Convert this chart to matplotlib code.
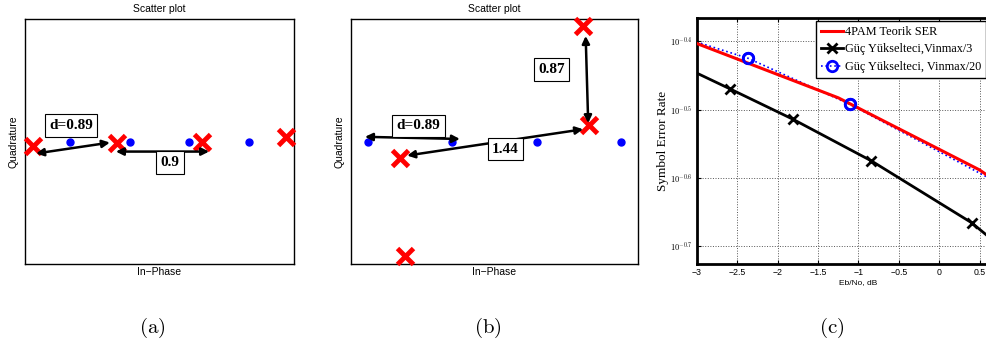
import matplotlib.pyplot as plt

plt.rcParams['mathtext.fontset'] = 'cm'

# 4PAM reference constellation (blue dots)
pam_i = [-3, -1, 1, 3]
pam_q = [0, 0, 0, 0]

# received symbols after the amplifier, case (a)
rx_a_i = [-4.24, -1.42, 1.42, 4.22]
rx_a_q = [-0.18, -0.04, 0.0, 0.17]

# received symbols after the amplifier, case (b)
rx_b_i = [-2.24, 2.24, 2.10, -2.12]
rx_b_q = [-0.46, 0.46, 3.21, -3.18]

# SER curves
ebno_theory = [-3.0, -1.25, 0.5, 2.25]
ser_theory = [0.395, 0.329, 0.258, 0.185]

ebno_v3 = [-3.35, -2.59, -1.81, -0.84, 0.40, 1.60]
ser_v3 = [0.374, 0.339, 0.306, 0.266, 0.216, 0.165]

ebno_v20 = [-3.63, -2.37, -1.11, 0.70]
ser_v20 = [0.419, 0.376, 0.322, 0.248]

SANS = 'Liberation Sans'
SERIF = 'Liberation Serif'

fig = plt.figure(figsize=(9.87, 3.52), dpi=100)
fig.patch.set_facecolor('white')


def scatter_axes(rect, lim):
    ax = fig.add_axes(rect)
    ax.set_xlim(-lim, lim)
    ax.set_ylim(-lim, lim)
    ax.set_xticks([])
    ax.set_yticks([])
    for sp in ax.spines.values():
        sp.set_linewidth(1.0)
    ax.set_title('Scatter plot', fontsize=7.5, family=SANS, pad=5)
    ax.set_xlabel('In\u2212Phase', fontsize=7.5, family=SANS, labelpad=2)
    ax.set_ylabel('Quadrature', fontsize=7.5, family=SANS, labelpad=5)
    return ax


def arrow(ax, p0, p1):
    ax.annotate('', xy=p1, xytext=p0,
                arrowprops=dict(arrowstyle='<|-|>', color='black', lw=1.8,
                                mutation_scale=11, shrinkA=0, shrinkB=0),
                zorder=5)


def label(ax, x, y, s):
    ax.text(x, y, s, ha='center', va='center', fontsize=11, fontweight='bold',
            family=SERIF, zorder=6,
            bbox=dict(boxstyle='square,pad=0.3', fc='white', ec='black', lw=0.8))


# --- (a) ---
ax_a = scatter_axes([25 / 987, 88 / 352, 269 / 987, 245 / 352], 4.5)
ax_a.plot(pam_i, pam_q, 'o', color='blue', ms=5, zorder=3)
ax_a.plot(rx_a_i, rx_a_q, 'x', color='red', ms=11, mew=3.5, zorder=4,
          clip_on=False)
arrow(ax_a, (-4.13, -0.44), (-1.66, -0.04))
arrow(ax_a, (-1.46, -0.37), (1.66, -0.37))
label(ax_a, -2.96, 0.59, 'd=0.89')
label(ax_a, 0.35, -0.77, '0.9')

# --- (b) ---
ax_b = scatter_axes([351 / 987, 88 / 352, 287 / 987, 245 / 352], 3.4)
ax_b.plot(pam_i, pam_q, 'o', color='blue', ms=5, zorder=3)
ax_b.plot(rx_b_i, rx_b_q, 'x', color='red', ms=11, mew=3.5, zorder=4,
          clip_on=False)
arrow(ax_b, (-3.07, 0.13), (-0.82, 0.07))
arrow(ax_b, (-2.07, -0.39), (2.10, 0.34))
arrow(ax_b, (2.16, 2.93), (2.22, 0.51))
label(ax_b, -1.81, 0.44, 'd=0.89')
label(ax_b, 0.26, -0.21, '1.44')
label(ax_b, 1.35, 2.0, '0.87')

# --- (c) ---
ax_c = fig.add_axes([697 / 987, 88 / 352, 323 / 987, 246 / 352])
ax_c.set_yscale('log')
ln_t, = ax_c.plot(ebno_theory, ser_theory, '-', color='red', lw=2.2, zorder=3,
                  label='4PAM Teorik SER')
ln_3, = ax_c.plot(ebno_v3, ser_v3, '-x', color='black', lw=2.0, ms=6.5, mew=2,
                  zorder=3, label='Güç Yükselteci,Vinmax/3')
ln_20, = ax_c.plot(ebno_v20, ser_v20, ':o', color='blue', lw=1.2, ms=7.5,
                   mew=2, mfc='none', zorder=2,
                   label='Güç Yükselteci, Vinmax/20')
ax_c.plot(ebno_v20, ser_v20, 'o', color='blue', ms=7.5, mew=2, mfc='none',
          zorder=4)

ax_c.set_xlim(-3, 1)
ax_c.set_ylim(10 ** -0.726, 10 ** -0.366)
ax_c.set_xticks([-3, -2.5, -2, -1.5, -1, -0.5, 0, 0.5])
ax_c.set_xticklabels(['\u22123', '\u22122.5', '\u22122', '\u22121.5', '\u22121',
                      '\u22120.5', '0', '0.5'], fontsize=6.3, family=SANS)
ax_c.set_yticks([10 ** -0.4, 10 ** -0.5, 10 ** -0.6, 10 ** -0.7])
ax_c.set_yticklabels([r'$\mathsf{10^{-0.4}}$', r'$\mathsf{10^{-0.5}}$',
                      r'$\mathsf{10^{-0.6}}$', r'$\mathsf{10^{-0.7}}$'],
                     fontsize=6)
ax_c.minorticks_off()
ax_c.tick_params(direction='in', length=3, width=0.8, top=True, right=True,
                 pad=3)
ax_c.grid(True, which='major', linestyle=':', color='#555555', lw=0.7)
for sp in ax_c.spines.values():
    sp.set_linewidth(2.0)
ax_c.set_xlabel('Eb/No, dB', fontsize=6, family=SANS, labelpad=1)
ax_c.set_ylabel('Symbol Error Rate', fontsize=9.5, family=SERIF)
ax_c.yaxis.set_label_coords(-0.087, 0.5)

leg = ax_c.legend(handles=[ln_t, ln_3, ln_20], loc='upper right',
                  bbox_to_anchor=(986 / 987, 1 - 21 / 352),
                  bbox_transform=fig.transFigure,
                  prop={'family': SERIF, 'size': 8.8}, fancybox=False,
                  framealpha=1, edgecolor='black', borderpad=0.4,
                  labelspacing=0.45, handlelength=1.8, handletextpad=0.15,
                  borderaxespad=0)
leg.get_frame().set_linewidth(1.0)

# sub-figure captions
for x, s in [(152, 'a'), (488, 'b'), (832, 'c')]:
    fig.text(x / 987, 1 - 328 / 352, r'$(\mathrm{%s})$' % s, ha='center',
             va='center', fontsize=15)

fig.savefig('out.png', dpi=100, facecolor='white')
